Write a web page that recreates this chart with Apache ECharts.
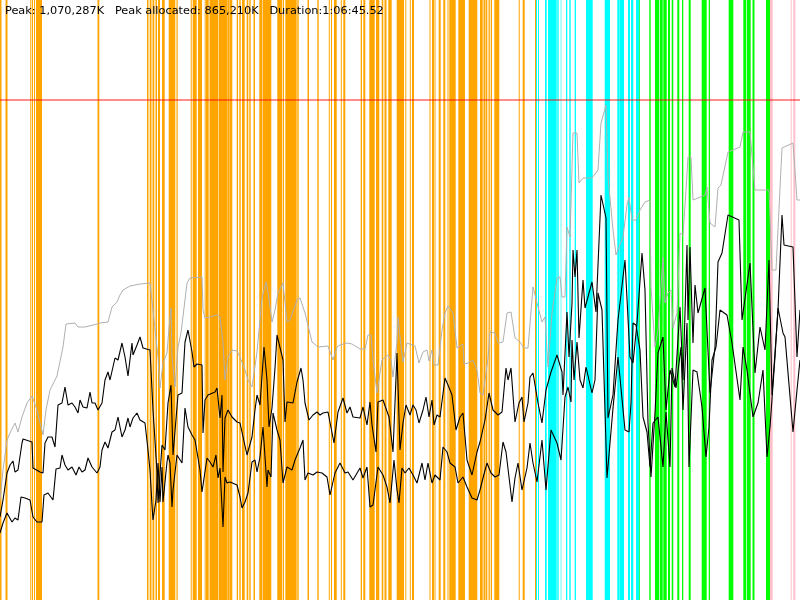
<!DOCTYPE html>
<html>
<head>
<meta charset="utf-8">
<script src="https://cdn.jsdelivr.net/npm/echarts@6/dist/echarts.min.js"></script>
<style>html,body{margin:0;padding:0;background:#fff}#c{width:800px;height:600px}</style>
</head>
<body>
<div id="c"></div>
<script>
const headerText = "Peak: 1,070,287K   Peak allocated: 865,210K   Duration:1:06:45.52";
const limitLevel = 500;

const orangeBars = [[0,1.5],[5.5,7.5],[30.3,31.3],[32,33],[34,35],[36,42],[97.5,99.3],[147,148.5],[149.7,151.5],[152.5,154.3],[155.5,157],[158,160],[162,164.7],[168.7,175.3],[176.5,177.7],[190.7,191.7],[192.7,196.7],[198,202],[204.7,205.7],[206,208.7],[209.5,218.3],[218.8,227],[227.3,229],[229.3,232.3],[236.7,238],[239.3,240.7],[242,244.7],[246.7,248.3],[249.3,250.7],[253.5,255],[259.3,262],[262.5,271.3],[277.3,282],[282.7,284],[285.3,296.7],[297.3,298.7],[307.5,309],[317.3,318.7],[328.8,329.8],[331,332],[334,336.7],[340.8,341.8],[343.3,345.3],[360.7,362],[363.3,365.3],[369.3,374.7],[376,379.3],[381.7,383.3],[384.5,386.5],[388.3,391.7],[396.7,404],[405.3,406.3],[409.8,410.8],[412,414],[429.5,430.5],[432,434],[434.5,435.5],[438.7,440.7],[443.3,445.3],[447.5,448.5],[449.3,455.7],[458.3,465],[468.7,477.3],[480,482.7],[483.5,485.5],[486,487.3],[488.5,489.8],[490.7,492],[494.3,499.3],[518.7,519.7],[522.7,524.7],[535,536]];
const cyanBars = [[536,537],[538,539],[545,546.7],[548,556.7],[557.3,558.7],[560.7,561.3],[566,567.3],[569.3,570.7],[574.7,576],[586,592.7],[604.7,610],[617.3,619],[619.3,624],[628,630],[631,633.3],[636,639.3]];
const greenBars = [[639.3,640],[649.3,650.7],[655,659.3],[660,662.7],[663.3,666.7],[668,670],[671.7,673.3],[677.3,679.3],[682,683.3],[688.7,690.7],[701.7,706.7],[708.7,710],[728.7,733.3],[743.3,746],[746.7,750.7],[752.5,754.5],[766,770]];
const pinkBars = [[770,772.7],[790.7,791.7],[793.3,795.3]];

const grayLine = [[0,100],[3,130],[7,160],[10,167],[15,177],[18,168],[22,183],[27,197],[32,204],[37,190],[43,165],[46,190],[50,210],[57,224],[59,225],[63,253],[66,276],[75,277],[78,273],[85,273],[97,276],[100,277],[108,278],[110,280],[112,293],[117,298],[120,305],[123,310],[130,314],[140,316],[150,317],[153,290],[158,243],[160,212],[163,237],[167,247],[169,272],[171,292],[172,243],[175,213],[178,253],[181,267],[183,268],[187,317],[190,322],[202,323],[203,290],[205,282],[210,283],[217,285],[220,283],[223,257],[225,220],[228,243],[232,250],[237,249],[240,243],[245,230],[248,220],[252,213],[257,248],[262,302],[266,318],[268,308],[272,278],[275,290],[278,307],[283,317],[287,278],[290,280],[297,300],[300,302],[305,287],[312,258],[318,253],[328,254],[333,240],[337,253],[340,255],[347,257],[352,256],[360,251],[365,251],[368,265],[371,265],[373,240],[377,207],[382,240],[388,245],[391,240],[393,223],[397,258],[398,283],[400,263],[403,238],[407,257],[415,254],[419,237],[423,248],[427,250],[429,239],[432,250],[434,235],[438,235],[442,270],[445,287],[448,294],[453,287],[457,252],[463,256],[464,236],[468,237],[473,240],[477,230],[480,207],[483,205],[485,220],[488,242],[490,268],[495,267],[498,257],[503,258],[507,287],[511,288],[515,262],[520,258],[524,252],[528,252],[533,313],[537,297],[542,278],[545,283],[548,233],[552,287],[557,322],[560,323],[562,303],[565,303],[567,373],[570,363],[573,467],[577,467],[579,417],[583,422],[592,422],[598,430],[601,477],[606,495],[608,423],[613,370],[616,345],[618,345],[623,363],[627,395],[629,403],[632,380],[636,380],[640,390],[645,398],[650,400],[651,313],[655,253],[658,270],[663,343],[665,297],[668,307],[671,310],[673,272],[677,287],[680,367],[683,365],[686,410],[688,443],[691,443],[693,400],[698,402],[705,405],[707,413],[710,377],[715,373],[718,412],[721,415],[728,448],[740,453],[743,468],[750,468],[755,410],[769,410],[772,330],[776,330],[782,452],[793,457],[797,400],[800,400]];

const upperLine = [[0,83],[3,100],[7,127],[10,135],[13,139],[15,128],[18,130],[22,157],[23,161],[32,158],[33,132],[40,128],[43,127],[45,157],[48,163],[52,163],[55,153],[58,195],[62,197],[65,213],[68,195],[72,197],[75,193],[78,187],[80,200],[83,193],[87,192],[90,208],[92,197],[95,197],[98,190],[102,197],[105,220],[108,228],[110,220],[115,242],[118,240],[122,257],[125,243],[128,224],[132,257],[133,245],[137,255],[140,263],[143,252],[150,250],[153,190],[157,128],[158,97],[162,155],[165,150],[168,197],[171,215],[173,145],[175,147],[178,205],[182,207],[185,258],[188,270],[192,248],[194,233],[197,236],[202,235],[203,167],[205,200],[208,205],[215,208],[217,212],[220,182],[222,205],[223,128],[225,182],[228,190],[232,183],[237,178],[240,177],[247,145],[252,163],[255,190],[257,205],[260,195],[264,253],[267,220],[269,173],[272,192],[275,232],[277,265],[283,240],[285,178],[287,198],[293,197],[297,218],[301,232],[303,220],[305,197],[309,180],[313,185],[317,188],[320,185],[323,187],[328,188],[330,188],[334,157],[338,188],[343,202],[347,187],[350,193],[353,183],[360,182],[363,193],[367,175],[370,198],[372,175],[376,148],[378,198],[383,200],[389,183],[393,148],[397,247],[400,150],[403,177],[406,195],[410,185],[413,195],[416,190],[419,177],[423,190],[426,203],[429,183],[432,200],[434,175],[437,185],[440,183],[445,222],[448,215],[452,205],[454,207],[456,170],[460,183],[463,187],[467,140],[472,125],[477,148],[480,158],[485,180],[489,207],[493,190],[498,185],[502,188],[506,232],[508,220],[511,232],[515,178],[519,197],[522,203],[524,178],[528,197],[530,223],[533,227],[538,197],[542,177],[546,210],[551,228],[557,245],[562,228],[563,205],[567,288],[569,243],[572,297],[573,350],[575,323],[577,350],[579,262],[583,320],[585,292],[592,318],[596,288],[601,405],[606,382],[608,182],[613,205],[618,280],[625,340],[630,243],[633,237],[637,277],[642,347],[645,310],[648,177],[651,123],[655,187],[658,247],[663,263],[666,190],[670,230],[675,213],[680,293],[683,220],[687,355],[688,280],[690,353],[693,257],[695,315],[698,287],[705,312],[710,207],[715,253],[718,338],[722,347],[728,385],[739,380],[742,280],[750,337],[755,227],[760,273],[765,250],[769,340],[772,205],[778,290],[782,385],[784,355],[793,353],[797,243],[800,290]];

const lowerLine = [[0,67],[3,77],[7,87],[12,78],[15,82],[18,80],[21,103],[25,102],[30,100],[33,83],[37,78],[42,78],[44,105],[48,107],[53,100],[55,98],[56,131],[60,132],[62,145],[65,135],[68,130],[72,133],[76,125],[79,133],[82,128],[85,130],[88,142],[92,133],[97,127],[100,133],[102,150],[105,158],[108,152],[112,168],[115,170],[118,183],[122,163],[125,170],[128,182],[130,173],[133,182],[137,187],[140,180],[145,177],[148,150],[150,130],[152,95],[153,80],[156,100],[158,137],[160,98],[162,133],[163,98],[167,138],[168,145],[170,137],[172,93],[173,110],[177,145],[178,143],[182,137],[185,192],[188,173],[192,165],[195,160],[200,130],[202,108],[207,142],[210,138],[213,133],[216,145],[218,122],[220,132],[223,73],[225,123],[227,117],[230,118],[237,115],[240,103],[242,92],[245,98],[248,107],[252,138],[255,140],[257,128],[260,143],[263,173],[267,113],[268,130],[271,123],[273,187],[277,170],[280,160],[283,117],[287,133],[292,130],[295,140],[300,152],[303,160],[305,120],[308,127],[313,125],[317,128],[322,127],[327,123],[330,105],[335,127],[340,137],[345,127],[348,128],[353,120],[360,132],[363,122],[367,133],[370,93],[373,95],[378,133],[383,125],[387,113],[390,97],[394,140],[397,110],[399,97],[402,132],[405,127],[409,132],[413,125],[417,117],[422,137],[425,120],[428,137],[432,117],[435,125],[440,120],[443,153],[447,148],[450,137],[455,133],[458,117],[463,123],[467,113],[472,102],[477,100],[480,110],[483,122],[487,137],[491,127],[495,123],[499,125],[503,158],[506,148],[512,98],[515,122],[518,137],[522,110],[527,132],[530,157],[533,137],[537,118],[542,160],[546,110],[551,170],[557,157],[561,140],[565,203],[568,213],[571,198],[572,260],[574,220],[577,258],[580,220],[583,212],[586,233],[592,207],[595,220],[598,307],[602,290],[607,122],[610,157],[613,192],[618,243],[625,170],[629,168],[631,197],[633,277],[636,275],[640,250],[643,183],[647,168],[650,133],[653,177],[658,183],[663,133],[666,188],[670,133],[672,232],[676,212],[681,253],[683,190],[687,277],[689,133],[693,230],[697,228],[702,193],[706,143],[709,173],[712,240],[716,253],[720,290],[727,285],[732,257],[740,200],[743,253],[747,230],[753,183],[758,197],[763,230],[767,143],[770,173],[775,243],[778,292],[783,267],[785,263],[793,168],[797,210],[800,240]];

function barSeries(data, color) {
  return {
    type: 'custom',
    data: data,
    encode: { x: [0, 1] },
    z: 1,
    silent: true,
    renderItem: function (params, api) {
      const a = api.coord([api.value(0), 0]);
      const b = api.coord([api.value(1), 600]);
      return {
        type: 'rect',
        shape: { x: a[0], y: b[1], width: b[0] - a[0], height: a[1] - b[1] },
        style: { fill: color }
      };
    }
  };
}

function lineSeries(data, color, width) {
  return {
    type: 'line',
    data: data,
    symbol: 'none',
    z: 5,
    silent: true,
    lineStyle: { color: color, width: width }
  };
}

const chart = echarts.init(document.getElementById('c'), null, { renderer: 'canvas' });
chart.setOption({
  animation: false,
  backgroundColor: '#ffffff',
  title: {
    text: headerText,
    left: 5, top: 6, padding: 0,
    textStyle: { fontSize: 11.3, fontWeight: 'normal', color: '#000', fontFamily: 'DejaVu Sans, sans-serif' }
  },
  grid: { left: 0, right: 0, top: 0, bottom: 0 },
  xAxis: { type: 'value', min: 0, max: 800, show: false },
  yAxis: { type: 'value', min: 0, max: 600, show: false },
  series: [
    barSeries(orangeBars, '#FFA500'),
    barSeries(cyanBars, '#00FFFF'),
    barSeries(greenBars, '#00FF00'),
    barSeries(pinkBars, '#FFC0CB'),
    lineSeries(grayLine, '#b0b0b0', 1),
    lineSeries(upperLine, '#000000', 1.1),
    Object.assign(lineSeries(lowerLine, '#000000', 1.1), {
      markLine: {
        silent: true,
        symbol: 'none',
        label: { show: false },
        lineStyle: { color: 'rgba(255,0,0,0.6)', width: 1.5, type: 'solid' },
        data: [{ yAxis: limitLevel }]
      }
    })
  ]
});
</script>
</body>
</html>
